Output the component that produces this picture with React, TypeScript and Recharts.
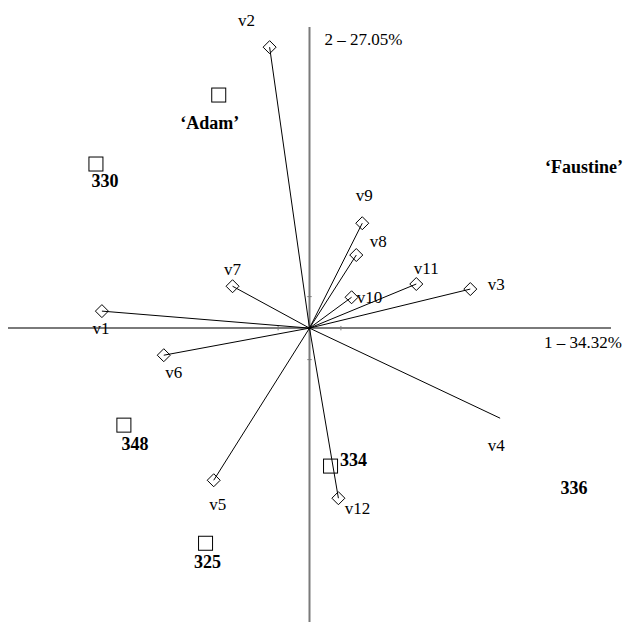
import React from "react";
import { ScatterChart, Scatter, XAxis, YAxis, ReferenceLine } from "recharts";

// variable loadings (arrows)
const varNames = ["v1", "v2", "v3", "v4", "v5", "v6", "v7", "v8", "v9", "v10", "v11", "v12"];
const varX = [-6.61, -1.27, 5.12, 6.07, -3.05, -4.64, -2.45, 1.49, 1.68, 1.34, 3.4, 0.92];
const varY = [0.54, 8.92, 1.24, -2.86, -4.83, -0.86, 1.33, 2.32, 3.33, 0.98, 1.4, -5.4];

// individuals (squares)
const indNames = ["‘Adam’", "330", "348", "325", "334", "336", "‘Faustine’"];
const indX = [-2.89, -6.8, -5.91, -3.31, 0.67, 8.42, 8.74];
const indY = [7.4, 5.21, -3.08, -6.83, -4.38, -5.08, 5.11];

const axisTitleX = "1 – 34.32%";
const axisTitleY = "2 – 27.05%";
const tickValues = [-1, 1];

// markers not drawn in the original
const noMarker = ["v4", "336", "‘Faustine’"];

// label offsets from the point, in px
const varLabelOffset: Record<string, [number, number]> = {
  v1: [-1, 17],
  v2: [-23, -27],
  v3: [26, -5],
  v4: [-4, 27],
  v5: [4, 24],
  v6: [10, 17],
  v7: [0, -17],
  v8: [22, -14],
  v9: [2, -28],
  v10: [18, 0],
  v11: [10, -16],
  v12: [19, 10],
};
const indLabelOffset: Record<string, [number, number]> = {
  "‘Adam’": [-9, 28],
  "330": [9, 17],
  "348": [11, 19],
  "325": [2, 19],
  "334": [23, -6],
  "336": [0, 0],
  "‘Faustine’": [0, 0],
};

const varData = varNames.map((name, i) => ({ name, x: varX[i], y: varY[i] }));
const indData = indNames.map((name, i) => ({ name, x: indX[i], y: indY[i] }));

const FONT = "'Liberation Serif', 'Times New Roman', serif";
const AXIS = "#7a7a7a";

function VarPoint(props: any) {
  const { cx, cy, payload } = props;
  const [dx, dy] = varLabelOffset[payload.name] || [0, 0];
  const s = 6.5;
  return (
    <g>
      {!noMarker.includes(payload.name) && (
        <path
          d={`M${cx},${cy - s}L${cx + s},${cy}L${cx},${cy + s}L${cx - s},${cy}Z`}
          fill="none"
          stroke="#000"
          strokeWidth={1}
        />
      )}
      <text
        x={cx + dx}
        y={cy + dy}
        textAnchor="middle"
        dominantBaseline="central"
        fontFamily={FONT}
        fontSize={17}
        fill="#000"
      >
        {payload.name}
      </text>
    </g>
  );
}

function IndPoint(props: any) {
  const { cx, cy, payload } = props;
  const [dx, dy] = indLabelOffset[payload.name] || [0, 0];
  const s = 7;
  return (
    <g>
      {!noMarker.includes(payload.name) && (
        <rect x={cx - s} y={cy - s} width={2 * s} height={2 * s} fill="none" stroke="#000" strokeWidth={1} />
      )}
      <text
        x={cx + dx}
        y={cy + dy}
        textAnchor="middle"
        dominantBaseline="central"
        fontFamily={FONT}
        fontSize={18}
        fontWeight="bold"
        fill="#000"
      >
        {payload.name}
      </text>
    </g>
  );
}

function TitleX(props: any) {
  const { viewBox } = props;
  return (
    <text
      x={viewBox.x + viewBox.width + 11}
      y={viewBox.y + 14}
      textAnchor="end"
      dominantBaseline="central"
      fontFamily={FONT}
      fontSize={17}
      fill="#000"
    >
      {axisTitleX}
    </text>
  );
}

function TitleY(props: any) {
  const { viewBox } = props;
  return (
    <text
      x={viewBox.x + 15}
      y={viewBox.y + 12}
      textAnchor="start"
      dominantBaseline="central"
      fontFamily={FONT}
      fontSize={17}
      fill="#000"
    >
      {axisTitleY}
    </text>
  );
}

export default function App() {
  return (
    <div style={{ position: "absolute", left: 0, top: 0, width: 625, height: 623, background: "#fff" }}>
      <ScatterChart width={625} height={623} margin={{ top: 27, right: 14, bottom: 1, left: 8 }}>
        <XAxis type="number" dataKey="x" domain={[-9.6, 9.6]} hide />
        <YAxis type="number" dataKey="y" domain={[-9.33, 9.56]} hide />
        <ReferenceLine y={0} stroke={AXIS} strokeWidth={2} label={<TitleX />} />
        <ReferenceLine x={0} stroke={AXIS} strokeWidth={2} label={<TitleY />} />
        {tickValues.map((t) => (
          <ReferenceLine
            key={`tx${t}`}
            segment={[
              { x: t, y: -0.07 },
              { x: t, y: 0.07 },
            ]}
            stroke={AXIS}
            strokeWidth={1}
          />
        ))}
        {tickValues.map((t) => (
          <ReferenceLine
            key={`ty${t}`}
            segment={[
              { x: -0.07, y: t },
              { x: 0.07, y: t },
            ]}
            stroke={AXIS}
            strokeWidth={1}
          />
        ))}
        {varData.map((d) => (
          <ReferenceLine
            key={d.name}
            segment={[
              { x: 0, y: 0 },
              { x: d.x, y: d.y },
            ]}
            stroke="#000"
            strokeWidth={1}
          />
        ))}
        <Scatter data={varData} shape={<VarPoint />} isAnimationActive={false} />
        <Scatter data={indData} shape={<IndPoint />} isAnimationActive={false} />
      </ScatterChart>
    </div>
  );
}
